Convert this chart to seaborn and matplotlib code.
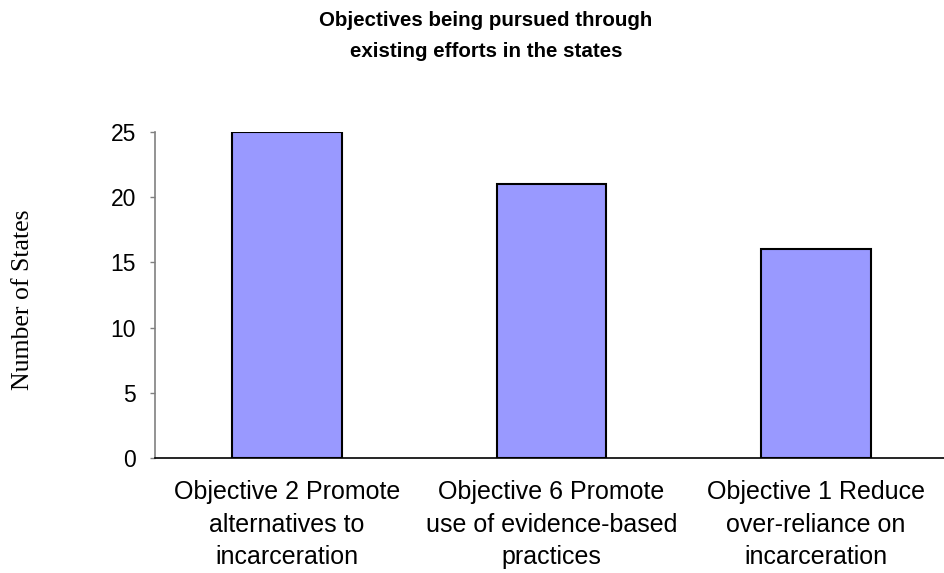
import pandas as pd
import matplotlib
matplotlib.use("Agg")
import matplotlib.pyplot as plt
import seaborn as sns

# Data
categories = [
    "Objective 2 Promote\nalternatives to\nincarceration",
    "Objective 6 Promote\nuse of evidence-based\npractices",
    "Objective 1 Reduce\nover-reliance on\nincarceration",
]
num_states = [25, 21, 16]
y_ticks = [0, 5, 10, 15, 20, 25]

df = pd.DataFrame({"Objective": categories, "States": num_states})

sns.set_style("white")
plt.rcParams["font.family"] = ["Liberation Sans", "DejaVu Sans"]
plt.rcParams["text.color"] = "black"
plt.rcParams["axes.labelcolor"] = "black"

fig = plt.figure(figsize=(9.45, 5.73), dpi=100)
ax = fig.add_axes([155 / 945, 115 / 573, 793 / 945, 326 / 573])

sns.barplot(data=df, x="Objective", y="States", color="#9999FF",
            saturation=1, width=0.414, edgecolor="black", linewidth=1.5, ax=ax)

ax.set_xlim(-0.5, 2.5)
ax.set_ylim(0, 25)
ax.set_yticks(y_ticks)
ax.set_xlabel("")
ax.set_ylabel("")

for s in ["top", "right"]:
    ax.spines[s].set_visible(False)
ax.spines["left"].set_color("#808080")
ax.spines["left"].set_linewidth(1.2)
ax.spines["bottom"].set_color("black")
ax.spines["bottom"].set_linewidth(1.2)

ax.tick_params(axis="y", direction="out", length=3.5, width=1, color="#808080",
               labelcolor="black", labelsize=16.5, pad=10, left=True)
ax.tick_params(axis="x", length=0, labelsize=18, labelcolor="black", pad=16)
for lbl in ax.get_xticklabels():
    lbl.set_linespacing(1.45)

fig.text(23 / 945, 1 - 300 / 573, "Number of States", rotation=90,
         ha="center", va="center", fontsize=18.5, family=["Liberation Serif"])

fig.text(486 / 945, 1 - 36 / 573,
         "Objectives being pursued through\nexisting efforts in the states",
         ha="center", va="center", fontsize=14.8, fontweight="bold", linespacing=1.8)

fig.savefig("out.png", dpi=100)
